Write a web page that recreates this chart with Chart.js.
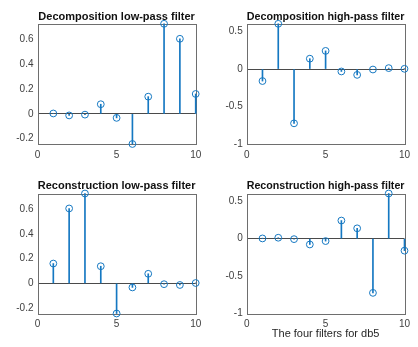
<!DOCTYPE html>
<html>
<head>
<meta charset="utf-8">
<script src="https://cdn.jsdelivr.net/npm/chart.js@4.4.1/dist/chart.umd.min.js"></script>
<style>
  html, body { margin: 0; padding: 0; background: #fff; }
  #wrap { position: relative; width: 418px; height: 347px; overflow: hidden; }
  .cell { position: absolute; }
</style>
</head>
<body>
<div id="wrap">
  <div class="cell" style="left:0;top:0;width:209px;height:170px"><canvas id="c1"></canvas></div>
  <div class="cell" style="left:209px;top:0;width:209px;height:170px"><canvas id="c2"></canvas></div>
  <div class="cell" style="left:0;top:170px;width:209px;height:177px"><canvas id="c3"></canvas></div>
  <div class="cell" style="left:209px;top:170px;width:209px;height:177px"><canvas id="c4"></canvas></div>
</div>
<script>
// db5 filter coefficients, index n = 1..10
const sampleIndex = [1, 2, 3, 4, 5, 6, 7, 8, 9, 10];
const decLowPass  = [0.0033, -0.0126, -0.0062, 0.0776, -0.0322, -0.2423, 0.1384, 0.7243, 0.6038, 0.1601];
const decHighPass = [-0.1601, 0.6038, -0.7243, 0.1384, 0.2423, -0.0322, -0.0776, -0.0062, 0.0126, 0.0033];
const recLowPass  = [0.1601, 0.6038, 0.7243, 0.1384, -0.2423, -0.0322, 0.0776, -0.0062, -0.0126, 0.0033];
const recHighPass = [0.0033, 0.0126, -0.0062, -0.0776, -0.0322, 0.2423, 0.1384, -0.7243, 0.6038, -0.1601];

// axis ticks and limits
const xTicks = [0, 5, 10];
const xLimits = [0, 10];
const lowPassTicks = [-0.2, 0, 0.2, 0.4, 0.6];
const highPassTicks = [-1, -0.5, 0, 0.5];
const lowPassLimits = [-0.2423, 0.7243];
const highPassLimits = [-1, 0.6038];

const titles = [
  'Decomposition low-pass filter',
  'Decomposition high-pass filter',
  'Reconstruction low-pass filter',
  'Reconstruction high-pass filter'
];
const xAxisLabel = 'The four filters for db5';

const STEM = '#1578c2';
const FONT = "'Liberation Sans', Arial, Helvetica, sans-serif";

// axes box drawn on all four sides
const boxPlugin = {
  id: 'axesBox',
  beforeDatasetsDraw(chart) {
    const { ctx, chartArea: a } = chart;
    ctx.save();
    ctx.strokeStyle = '#6e6e6e';
    ctx.lineWidth = 1;
    ctx.strokeRect(Math.round(a.left) + 0.5, Math.round(a.top) + 0.5,
                   Math.round(a.right - a.left), Math.round(a.bottom - a.top));
    ctx.restore();
  }
};

function stemChart(id, title, values, yTicks, yLimits, opts) {
  const pts = sampleIndex.map((x, i) => ({ x: x, y: values[i] }));
  return new Chart(document.getElementById(id), {
    type: 'bar',
    data: {
      datasets: [
        {
          type: 'line',
          data: pts,
          showLine: false,
          pointRadius: 3.4,
          pointHoverRadius: 3.4,
          pointBorderWidth: 1,
          pointBackgroundColor: 'rgba(0,0,0,0)',
          pointBorderColor: STEM,
          borderColor: STEM,
          clip: false,
          order: 0
        },
        {
          type: 'bar',
          data: pts,
          backgroundColor: STEM,
          borderWidth: 0,
          barThickness: 1,
          grouped: false,
          clip: false,
          order: 1
        }
      ]
    },
    options: {
      responsive: true,
      maintainAspectRatio: false,
      animation: false,
      events: [],
      layout: { padding: { left: 0, right: opts.padRight, top: 0, bottom: 0 } },
      plugins: {
        legend: { display: false },
        tooltip: { enabled: false },
        title: {
          display: true,
          text: title,
          fullSize: false,
          color: '#111',
          font: { family: FONT, size: 11, weight: 'bold', lineHeight: 1.2 },
          padding: { top: opts.titleTop, bottom: 0.6 }
        }
      },
      scales: {
        x: {
          type: 'linear',
          min: xLimits[0],
          max: xLimits[1],
          offset: false,
          afterBuildTicks(s) { s.ticks = xTicks.map(v => ({ value: v })); },
          afterFit(s) { s.height = opts.xHeight; },
          grid: { display: false, drawTicks: false },
          border: { display: false },
          ticks: {
            color: '#404040',
            padding: 5,
            maxRotation: 0,
            font: { family: FONT, size: 10 },
            callback: v => String(v)
          },
          title: {
            display: !!opts.xTitle,
            text: opts.xTitle || '',
            color: '#262626',
            font: { family: FONT, size: 11 },
            padding: { top: 6, bottom: 6 }
          }
        },
        y: {
          min: yLimits[0],
          max: yLimits[1],
          afterBuildTicks(s) { s.ticks = yTicks.map(v => ({ value: v })); },
          afterFit(s) { s.width = opts.yWidth; },
          grid: {
            drawTicks: false,
            lineWidth: 1,
            color: c => (c.tick && Math.abs(c.tick.value) < 1e-9) ? '#4a4a4a' : 'rgba(0,0,0,0)'
          },
          border: { display: false },
          ticks: {
            color: '#404040',
            padding: 4,
            font: { family: FONT, size: 10 },
            callback: v => String(Math.round(v * 10) / 10)
          }
        }
      }
    },
    plugins: [boxPlugin]
  });
}

stemChart('c1', titles[0], decLowPass, lowPassTicks, lowPassLimits,
  { padRight: 13.3, titleTop: 10, xHeight: 26, yWidth: 37.5 });
stemChart('c2', titles[1], decHighPass, highPassTicks, highPassLimits,
  { padRight: 13.5, titleTop: 10, xHeight: 26, yWidth: 37.7 });
stemChart('c3', titles[2], recLowPass, lowPassTicks, lowPassLimits,
  { padRight: 13.3, titleTop: 9.7, xHeight: 33.5, yWidth: 37.5 });
stemChart('c4', titles[3], recHighPass, highPassTicks, highPassLimits,
  { padRight: 13.5, titleTop: 9.7, xHeight: 33.5, yWidth: 37.7, xTitle: xAxisLabel });
</script>
</body>
</html>
